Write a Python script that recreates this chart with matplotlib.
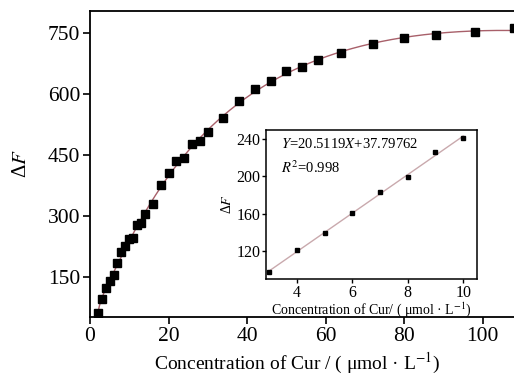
import numpy as np
import matplotlib
matplotlib.use('Agg')
import matplotlib.pyplot as plt

plt.rcParams['font.family'] = ['Liberation Serif', 'DejaVu Serif']
plt.rcParams['mathtext.fontset'] = 'stix'

# main curve data
conc = [2, 3, 4, 5, 6, 7, 8, 9, 10, 11, 12, 13, 14, 16, 18, 20, 22, 24, 26, 28,
        30, 34, 38, 42, 46, 50, 54, 58, 64, 72, 80, 88, 98, 108]
delta_f = [62, 96, 123, 140, 155, 184, 212, 226, 243, 246, 278, 283, 305, 330, 376,
           406, 435, 443, 477, 484, 507, 541, 583, 612, 632, 657, 666, 683, 701,
           723, 738, 745, 752, 762]

# inset linear range
conc_lin = [3, 4, 5, 6, 7, 8, 9, 10]
delta_f_lin = [97, 121.4, 139, 161, 183, 199, 226, 240.8]

main_ticks_x = [0, 20, 40, 60, 80, 100]
main_ticks_y = [150, 300, 450, 600, 750]
inset_ticks_x = [4, 6, 8, 10]
inset_ticks_y = [120, 160, 200, 240]

fig = plt.figure(figsize=(5.14, 3.78), dpi=100)
ax = fig.add_axes([90/514, 61/378, 426/514, 306/378])

# smooth fitted curve through the measured points
coef = np.polyfit(np.log(conc), delta_f, 4)
xs = np.linspace(min(conc), max(conc) + 1, 300)
ax.plot(xs, np.polyval(coef, np.log(xs)), color='#a8606a', lw=1.0, zorder=2)
ax.plot(conc, delta_f, 's', color='black', markersize=5.5, zorder=3)

ax.set_xlim(0, 108.5)
ax.set_ylim(52, 804)
ax.set_xticks(main_ticks_x)
ax.set_yticks(main_ticks_y)
ax.tick_params(direction='out', length=5, width=1.2, labelsize=15.5, pad=2)
for s in ax.spines.values():
    s.set_linewidth(1.3)
ax.set_xlabel('Concentration of Cur / ( μmol · L$^{-1}$)', fontsize=14)
ax.xaxis.set_label_coords(0.486, -0.11)
ax.set_ylabel('Δ$F$', fontsize=15, labelpad=12)

# inset
ins = fig.add_axes([266/514, 99/378, 211/514, 149/378])
fit = np.polyfit(conc_lin, delta_f_lin, 1)
xl = np.array([min(conc_lin), max(conc_lin)])
ins.plot(xl, np.polyval(fit, xl), color='#c9a9ad', lw=1.0, zorder=2)
ins.plot(conc_lin, delta_f_lin, 's', color='black', markersize=2.5, zorder=3)
ins.set_xlim(2.88, 10.5)
ins.set_ylim(90, 249.6)
ins.set_xticks(inset_ticks_x)
ins.set_yticks(inset_ticks_y)
ins.tick_params(direction='out', length=3, width=1, labelsize=11.5, pad=1)
for s in ins.spines.values():
    s.set_linewidth(1.1)
ins.set_xlabel('Concentration of Cur/ ( μmol · L$^{-1}$)', fontsize=10, labelpad=0)
ins.set_ylabel('Δ$F$', fontsize=10, labelpad=2)
ins.text(0.07, 0.95, '$Y$=20.5119$X$+37.79762', transform=ins.transAxes,
         fontsize=10.5, va='top', ha='left')
ins.text(0.07, 0.80, '$R^2$=0.998', transform=ins.transAxes,
         fontsize=10.5, va='top', ha='left')

fig.savefig('out.png', dpi=100)
